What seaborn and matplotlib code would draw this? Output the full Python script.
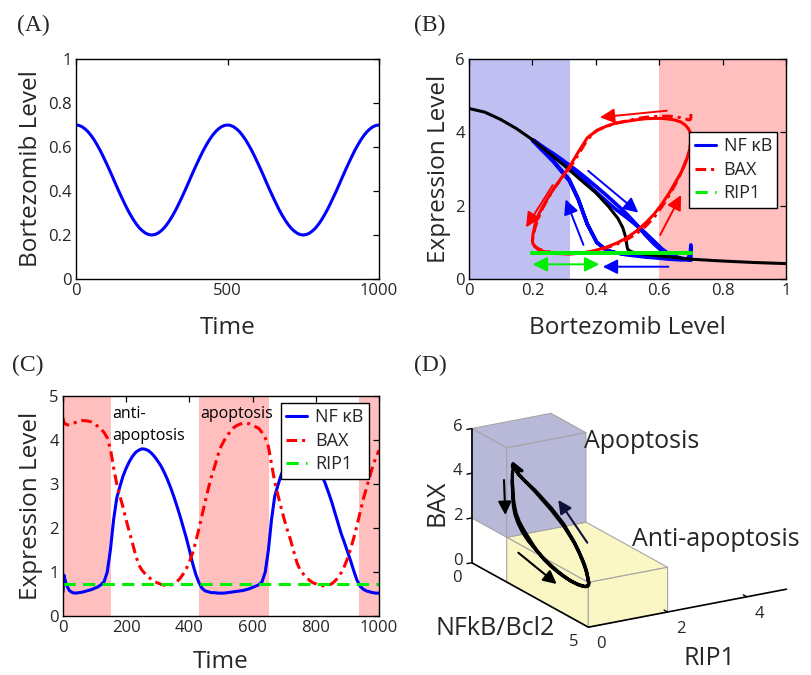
import numpy as np
import pandas as pd
import matplotlib
matplotlib.use("Agg")
import matplotlib.pyplot as plt
from matplotlib.lines import Line2D
import seaborn as sns
from mpl_toolkits.mplot3d import proj3d
from mpl_toolkits.mplot3d.art3d import Poly3DCollection

# ---- data ----
time = [0, 3] + list(range(10, 1001, 10))

bortezomib = [0.700, 0.700,
              0.698, 0.692, 0.682, 0.669, 0.652, 0.632, 0.609, 0.584, 0.556, 0.527,
              0.497, 0.466, 0.434, 0.403, 0.373, 0.344, 0.316, 0.291, 0.268, 0.248,
              0.231, 0.218, 0.208, 0.202, 0.200, 0.202, 0.208, 0.218, 0.231, 0.248,
              0.268, 0.291, 0.316, 0.344, 0.373, 0.403, 0.434, 0.466, 0.497, 0.527,
              0.556, 0.584, 0.609, 0.632, 0.652, 0.669, 0.682, 0.692, 0.698, 0.700,
              0.698, 0.692, 0.682, 0.669, 0.652, 0.632, 0.609, 0.584, 0.556, 0.527,
              0.497, 0.466, 0.434, 0.403, 0.373, 0.344, 0.316, 0.291, 0.268, 0.248,
              0.231, 0.218, 0.208, 0.202, 0.200, 0.202, 0.208, 0.218, 0.231, 0.248,
              0.268, 0.291, 0.316, 0.344, 0.373, 0.403, 0.434, 0.466, 0.497, 0.527,
              0.556, 0.584, 0.609, 0.632, 0.652, 0.669, 0.682, 0.692, 0.698, 0.700]

nfkb = [0.55, 0.93,
        0.72, 0.58, 0.53, 0.52, 0.53, 0.54, 0.56, 0.58, 0.60, 0.63,
        0.66, 0.71, 0.78, 1.00, 1.50, 2.18, 2.68, 2.94, 3.18, 3.36,
        3.51, 3.63, 3.72, 3.77, 3.80, 3.79, 3.76, 3.70, 3.62, 3.52,
        3.41, 3.27, 3.11, 2.93, 2.73, 2.51, 2.28, 2.03, 1.78, 1.50,
        1.20, 0.95, 0.76, 0.63, 0.57, 0.55, 0.53, 0.53, 0.52, 0.52,
        0.52, 0.53, 0.54, 0.55, 0.56, 0.57, 0.58, 0.60, 0.62, 0.65,
        0.68, 0.71, 0.78, 1.00, 1.50, 2.20, 2.72, 2.97, 3.20, 3.37,
        3.51, 3.62, 3.71, 3.76, 3.79, 3.78, 3.75, 3.68, 3.58, 3.46,
        3.33, 3.18, 3.01, 2.81, 2.60, 2.36, 2.12, 1.88, 1.68, 1.47,
        1.26, 1.03, 0.82, 0.68, 0.61, 0.57, 0.55, 0.53, 0.52, 0.52]

bax = [4.50, 4.40,
       4.35, 4.34, 4.37, 4.40, 4.42, 4.44, 4.44, 4.43, 4.41, 4.37,
       4.31, 4.25, 4.17, 4.05, 3.80, 3.38, 3.00, 2.73, 2.47, 2.18,
       1.91, 1.65, 1.38, 1.16, 1.04, 0.96, 0.89, 0.83, 0.78, 0.75,
       0.72, 0.70, 0.69, 0.70, 0.73, 0.78, 0.85, 0.95, 1.07, 1.23,
       1.43, 1.68, 1.98, 2.29, 2.60, 2.90, 3.17, 3.40, 3.65, 3.85,
       3.99, 4.10, 4.20, 4.28, 4.33, 4.36, 4.38, 4.38, 4.37, 4.34,
       4.30, 4.26, 4.17, 4.05, 3.85, 3.45, 3.05, 2.75, 2.47, 2.20,
       1.95, 1.73, 1.47, 1.22, 1.05, 0.96, 0.88, 0.81, 0.76, 0.73,
       0.70, 0.69, 0.68, 0.70, 0.73, 0.79, 0.87, 0.98, 1.12, 1.30,
       1.52, 1.77, 2.05, 2.35, 2.65, 2.90, 3.15, 3.40, 3.60, 3.77]

rip1 = [0.72] * len(time)

# steady-state NFkB vs bortezomib (black curve in B)
bort_ss = [0, 0.05, 0.1, 0.15, 0.2, 0.25, 0.3, 0.35, 0.4, 0.44, 0.47, 0.485,
           0.495, 0.498, 0.5, 0.51, 0.53, 0.57, 0.63, 0.7, 0.8, 0.9, 1.0]
nfkb_ss = [4.65, 4.55, 4.35, 4.1, 3.8, 3.45, 3.1, 2.72, 2.35, 1.98, 1.65, 1.4,
           1.12, 0.92, 0.82, 0.75, 0.70, 0.66, 0.6, 0.54, 0.49, 0.45, 0.42]

# shaded regions
b_anti = (0, 0.32)
b_apop = (0.6, 1.0)
c_band_start = [0, 431, 937]
c_band_end = [152, 652, 1000]

# 3-D panel: axis ticks and region boxes (NFkB, RIP1, BAX ranges)
bax_ticks = [0, 2, 4, 6]
nfkb_ticks = [0, 5]
rip1_ticks = [0, 2, 4]
anti_box = (1.5, 5, 0, 2, 0, 2)
apop_box = (0, 1.5, 0, 2, 2, 6)

df = pd.DataFrame({"time": time, "bort": bortezomib, "nfkb": nfkb,
                   "bax": bax, "rip1": rip1})
ss = pd.DataFrame({"bort": bort_ss, "nfkb": nfkb_ss})
cycle1 = df[df["time"] <= 500]
cycle2 = df[df["time"] >= 500]

# ---- style ----
sns.set_theme(style="white")
plt.rcParams["font.family"] = ["Open Sans", "DejaVu Sans"]

BLUE = "#0000FF"
RED = "#FF0000"
GREEN = "#00EE00"
PINK = "#FFBFBF"
LAV = "#BFBFF2"
TICK = "#262626"
LW = 2.2
BAX_LS = (0, (3.5, 1.6, 1.0, 1.6))
RIP_LS = (0, (4.0, 2.4))

W, H = 811, 675
fig = plt.figure(figsize=(W / 100, H / 100), dpi=100)


def px_axes(l, r, t, b):
    return [l / W, 1 - b / H, (r - l) / W, (b - t) / H]


def style_2d(ax):
    for s in ax.spines.values():
        s.set_color("black")
        s.set_linewidth(1.0)
    ax.tick_params(direction="in", top=True, right=True, length=4, width=0.9,
                   labelsize=12, colors="black", labelcolor=TICK, pad=3)


def labels_2d(ax, xl, yl, yx, xy=-0.252):
    ax.set_xlabel(xl, fontsize=17.5, color=TICK)
    ax.set_ylabel(yl, fontsize=17.5, color=TICK)
    ax.xaxis.label.set_va("baseline")
    ax.yaxis.label.set_va("baseline")
    ax.xaxis.set_label_coords(0.5, xy)
    ax.yaxis.set_label_coords(yx, 0.5)


def legend_2d(ax, anchor):
    h = [Line2D([], [], color=BLUE, lw=LW),
         Line2D([], [], color=RED, lw=LW, linestyle=BAX_LS),
         Line2D([], [], color=GREEN, lw=LW, linestyle=RIP_LS)]
    leg = ax.legend(h, ["NF κB", "BAX", "RIP1"], loc="upper right",
                    bbox_to_anchor=anchor, fontsize=13,
                    frameon=True, fancybox=False, framealpha=1, edgecolor="black",
                    borderpad=0.3, handlelength=1.15, handletextpad=0.45,
                    labelspacing=0.3, borderaxespad=0)
    leg.get_frame().set_linewidth(1.0)
    for t in leg.get_texts():
        t.set_color(TICK)


# ---- (A) ----
ax_a = fig.add_axes(px_axes(76, 379, 59, 279))
sns.lineplot(data=df, x="time", y="bort", color=BLUE, lw=LW, ax=ax_a,
             sort=False, estimator=None)
ax_a.set_xlim(0, 1000)
ax_a.set_ylim(0, 1)
ax_a.set_xticks([0, 500, 1000])
ax_a.set_yticks([0, 0.2, 0.4, 0.6, 0.8, 1])
ax_a.set_yticklabels(["0", "0.2", "0.4", "0.6", "0.8", "1"])
style_2d(ax_a)
labels_2d(ax_a, "Time", "Bortezomib Level", -0.129)

# ---- (B) ----
ax_b = fig.add_axes(px_axes(469, 786, 59, 279))
ax_b.axvspan(*b_anti, color=LAV, lw=0, zorder=0)
ax_b.axvspan(*b_apop, color=PINK, lw=0, zorder=0)
sns.lineplot(data=df, x="bort", y="nfkb", color=BLUE, lw=2.6, ax=ax_b,
             sort=False, estimator=None)
sns.lineplot(data=ss, x="bort", y="nfkb", color="black", lw=2.2, ax=ax_b,
             sort=False, estimator=None)
# the second cycle retraces the first: dashes of both passes merge
sns.lineplot(data=cycle1, x="bort", y="bax", color=RED, lw=LW, ax=ax_b,
             sort=False, estimator=None, linestyle=BAX_LS)
sns.lineplot(data=cycle2, x="bort", y="bax", color=RED, lw=LW, ax=ax_b,
             sort=False, estimator=None)
sns.lineplot(data=df, x="bort", y="rip1", color=GREEN, lw=2.6, ax=ax_b,
             sort=False, estimator=None)
ax_b.set_xlim(0, 1)
ax_b.set_ylim(0, 6)
ax_b.set_xticks([0, 0.2, 0.4, 0.6, 0.8, 1])
ax_b.set_xticklabels(["0", "0.2", "0.4", "0.6", "0.8", "1"])
ax_b.set_yticks([0, 2, 4, 6])
style_2d(ax_b)
labels_2d(ax_b, "Bortezomib Level", "Expression Level", -0.076)
legend_2d(ax_b, (0.973, 0.668))

arrows_b = [
    ((0.624, 4.59), (0.413, 4.41), RED, "-|>"),
    ((0.264, 2.56), (0.180, 1.41), RED, "-|>"),
    ((0.603, 1.20), (0.669, 2.29), RED, "-|>"),
    ((0.376, 2.95), (0.534, 1.81), BLUE, "-|>"),
    ((0.361, 0.93), (0.305, 2.17), BLUE, "-|>"),
    ((0.629, 0.335), (0.422, 0.335), BLUE, "-|>"),
    ((0.201, 0.40), (0.411, 0.40), GREEN, "<|-|>"),
]
for tail, head, col, st in arrows_b:
    ax_b.annotate("", xy=head, xytext=tail,
                  arrowprops=dict(arrowstyle=st, color=col, lw=1.4,
                                  mutation_scale=22, shrinkA=0, shrinkB=0),
                  zorder=6)

# ---- (C) ----
ax_c = fig.add_axes(px_axes(63, 379, 396, 616))
for s0, s1 in zip(c_band_start, c_band_end):
    ax_c.axvspan(s0, s1, color=PINK, lw=0, zorder=0)
sns.lineplot(data=df, x="time", y="nfkb", color=BLUE, lw=LW, ax=ax_c,
             sort=False, estimator=None)
sns.lineplot(data=df, x="time", y="bax", color=RED, lw=LW, ax=ax_c,
             sort=False, estimator=None, linestyle=BAX_LS)
sns.lineplot(data=df, x="time", y="rip1", color=GREEN, lw=LW, ax=ax_c,
             sort=False, estimator=None, linestyle=RIP_LS)
ax_c.set_xlim(0, 1000)
ax_c.set_ylim(0, 5)
ax_c.set_xticks([0, 200, 400, 600, 800, 1000])
ax_c.set_yticks([0, 1, 2, 3, 4, 5])
style_2d(ax_c)
labels_2d(ax_c, "Time", "Expression Level", -0.082, xy=-0.238)
legend_2d(ax_c, (0.968, 0.968))
ax_c.text(155, 4.51, "anti-", fontsize=11.5, color="black", va="baseline")
ax_c.text(155, 4.00, "apoptosis", fontsize=11.5, color="black", va="baseline")
ax_c.text(433, 4.51, "apoptosis", fontsize=11.5, color="black", va="baseline")

# ---- (D) 3-D phase space ----
ax_d = fig.add_axes([469 / W, 8 / H, 320 / W, 320 / H], projection="3d")
ax_d.set_facecolor("none")
ax_d.set_proj_type("ortho")
ax_d.set_xlim(0, 5)
ax_d.set_ylim(0, 5)
ax_d.set_zlim(0, 6)
ax_d.set_xticks([])
ax_d.set_yticks([])
ax_d.set_zticks([])
ax_d.view_init(elev=19, azim=-30.5)
ax_d.set_axis_off()
ax_d.computed_zorder = False
aspect = (1.62, 1.62, 1.0)
ax_d.set_box_aspect(aspect, zoom=1.0)


def d_px(ax, x, y, z):
    xs, ys, _ = proj3d.proj_transform(np.asarray(x, float), np.asarray(y, float),
                                      np.asarray(z, float), ax.get_proj())
    pts = ax.transData.transform(np.column_stack([xs, ys]))
    pts[:, 1] = H - pts[:, 1]
    return pts


# fit the projected box onto the layout of the original panel
target_origin = np.array([471.7, 562.7])
target_len = np.hypot(116.6, 64.6)
fig.canvas.draw()
p = d_px(ax_d, [0, 5], [0, 0], [0, 0])
ax_d.set_box_aspect(aspect, zoom=target_len / np.linalg.norm(p[1] - p[0]))
fig.canvas.draw()
for _ in range(2):
    p = d_px(ax_d, [0], [0], [0])
    shift = target_origin - p[0]
    pos = ax_d.get_position(original=True)
    ax_d.set_position([pos.x0 + shift[0] / W, pos.y0 - shift[1] / H,
                       pos.width, pos.height])
    fig.canvas.draw()


def box_faces(x0, x1, y0, y1, z0, z1):
    top = [(x0, y0, z1), (x1, y0, z1), (x1, y1, z1), (x0, y1, z1)]
    front = [(x1, y0, z0), (x1, y1, z0), (x1, y1, z1), (x1, y0, z1)]
    side = [(x0, y0, z0), (x1, y0, z0), (x1, y0, z1), (x0, y0, z1)]
    return [side, front, top]


for bx, col in [(anti_box, "#FAF7C4"), (apop_box, "#B8B8D9")]:
    pc = Poly3DCollection(box_faces(*bx), facecolors=col, edgecolors="#A5A5A5",
                          linewidths=0.8, zorder=1)
    pc.set_clip_on(False)
    ax_d.add_collection3d(pc)

ax_d.plot([0, 0], [0, 0], [0, 6], color="black", lw=1.2, zorder=3, clip_on=False)
ax_d.plot([0, 5], [0, 0], [0, 0], color="black", lw=1.2, zorder=3, clip_on=False)
ax_d.plot([5, 5], [0, 5], [0, 0], color="black", lw=1.2, zorder=3, clip_on=False)
for z in bax_ticks:
    ax_d.plot([0, 0], [0, -0.12], [z, z], color="black", lw=1.0, zorder=3,
              clip_on=False)
for y in rip1_ticks[1:]:
    ax_d.plot([5, 4.85], [y, y], [0, 0], color="black", lw=1.0, zorder=3,
              clip_on=False)

ax_d.plot(df["nfkb"], df["rip1"], df["bax"], color="black", lw=2.4, zorder=5,
          clip_on=False)

# overlay in pixel units for the labels and arrows of (D) and panel letters
ov = fig.add_axes([0, 0, 1, 1], zorder=20)
ov.set_xlim(0, W)
ov.set_ylim(H, 0)
ov.set_facecolor("none")
ov.axis("off")

# tick labels of the 3-D axes, placed at their projected positions
tick_pts = ([(0, -0.35, z + 0.2, z) for z in bax_ticks]
            + [(x, -0.37, -0.55, x) for x in nfkb_ticks]
            + [(5.55, y, -0.45, y) for y in rip1_ticks])
for x, y, z, lab in tick_pts:
    q = d_px(ax_d, [x], [y], [z])[0]
    ov.text(q[0], q[1], str(lab), fontsize=12, color=TICK,
            ha="center", va="center")

ov.text(584, 448, "Apoptosis", fontsize=18, color=TICK, va="baseline")
ov.text(632, 546, "Anti-apoptosis", fontsize=18, color=TICK, va="baseline")
ov.text(443, 503, "BAX", fontsize=18, color=TICK, rotation=90,
        rotation_mode="anchor", ha="center", va="baseline")
ov.text(435, 635, "NFkB/Bcl2", fontsize=18, color=TICK, va="baseline")
ov.text(683, 665, "RIP1", fontsize=18, color=TICK, va="baseline")

arrows_d = [((504, 480), (505.3, 515), "black"),
            ((518.3, 552.7), (556.7, 584), "black"),
            ((587.3, 542.7), (558.3, 500), "#10103a")]
for tail, head, col in arrows_d:
    ov.annotate("", xy=head, xytext=tail,
                arrowprops=dict(arrowstyle="-|>", color=col, lw=1.5,
                                mutation_scale=20, shrinkA=0, shrinkB=0))

for lab, x, y in [("(A)", 33, 25), ("(B)", 430, 25), ("(C)", 28, 365), ("(D)", 430, 365)]:
    ov.text(x, y, lab, fontsize=17, family="Liberation Serif", color=TICK,
            ha="center", va="center")

fig.savefig("out.png", dpi=100)
